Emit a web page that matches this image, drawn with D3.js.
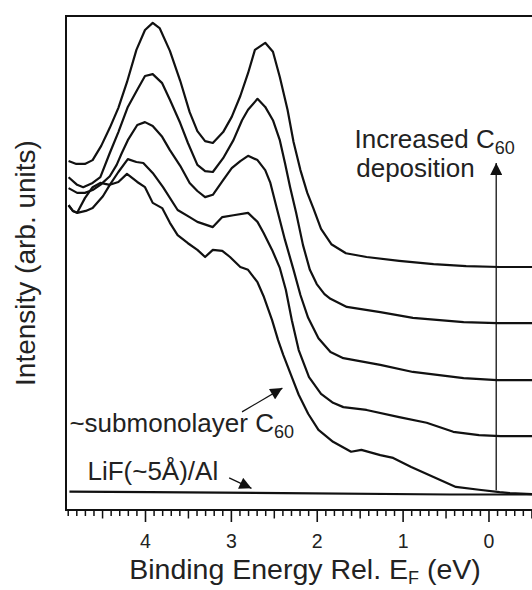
<!DOCTYPE html>
<html>
<head>
<meta charset="utf-8">
<script src="https://cdn.jsdelivr.net/npm/d3@7"></script>
<style>
  body { margin: 0; background: #fff; }
  svg { display: block; font-family: 'Liberation Sans', Arial, sans-serif; }
</style>
</head>
<body>
<div id="chart"></div>
<script>
// UPS spectra: binding energy (eV) and intensity (arb. units).
// Curve 1 is the thickest C60 film, curve 5 the submonolayer coverage.
const energy1 = [4.89, 4.80, 4.70, 4.61, 4.51, 4.41, 4.31, 4.21, 4.10, 4.00, 3.91, 3.83, 3.71, 3.59, 3.48, 3.39, 3.30, 3.21, 3.09, 2.99,
  2.89, 2.80, 2.72, 2.60, 2.51, 2.43, 2.34, 2.27, 2.19, 2.11, 2.04, 1.95, 1.83, 1.66, 1.42, 1.04, 0.64, 0.26, -0.13, -0.51];
const intensity1 = [70.3, 69.7, 69.7, 70.5, 73.5, 77.3, 81.5, 86.9, 93.7, 97.9, 99.4, 98.3, 93.5, 87.2, 80.6, 76.6, 74.5, 74.1, 76.4, 79.6,
  84.0, 88.8, 93.7, 95.2, 93.3, 88.0, 81.1, 74.3, 68.4, 63.6, 60.4, 56.0, 52.8, 50.9, 50.1, 49.3, 48.6, 48.2, 48.0, 48.0];

const energy2 = [4.89, 4.79, 4.72, 4.61, 4.52, 4.41, 4.31, 4.20, 4.09, 4.00, 3.91, 3.80, 3.71, 3.59, 3.50, 3.39, 3.30, 3.21, 3.09, 2.97,
  2.87, 2.80, 2.69, 2.60, 2.51, 2.43, 2.37, 2.31, 2.24, 2.16, 2.08, 2.00, 1.91, 1.84, 1.65, 1.26, 0.88, 0.29, -0.10, -0.51];
const intensity2 = [66.9, 65.3, 64.8, 65.7, 66.9, 72.0, 76.4, 81.7, 85.3, 88.2, 88.6, 86.7, 83.2, 78.3, 74.1, 69.5, 68.2, 68.0, 70.9, 74.7,
  78.9, 81.1, 83.4, 81.7, 78.9, 74.7, 69.9, 64.8, 59.4, 52.6, 47.4, 44.4, 42.3, 41.3, 39.6, 38.5, 37.3, 36.4, 36.2, 36.2];

const energy3 = [4.89, 4.79, 4.70, 4.61, 4.52, 4.41, 4.33, 4.27, 4.20, 4.09, 4.00, 3.91, 3.80, 3.71, 3.59, 3.48, 3.39, 3.30, 3.21, 3.09,
  2.99, 2.89, 2.80, 2.69, 2.60, 2.54, 2.46, 2.37, 2.27, 2.19, 2.10, 1.98, 1.84, 1.69, 1.26, 0.88, 0.29, -0.10, -0.51];
const intensity3 = [64.6, 63.6, 63.6, 64.2, 65.3, 67.1, 69.5, 72.0, 74.7, 77.9, 78.5, 77.7, 75.4, 72.6, 69.3, 65.7, 64.0, 62.7, 63.2, 66.3,
  68.8, 70.3, 71.4, 70.5, 68.4, 65.7, 60.0, 53.7, 47.4, 42.1, 37.3, 33.0, 30.1, 28.8, 27.4, 25.9, 24.6, 24.2, 24.2];

const energy4 = [4.89, 4.84, 4.79, 4.69, 4.61, 4.49, 4.41, 4.31, 4.20, 4.10, 4.02, 3.91, 3.79, 3.62, 3.48, 3.39, 3.21, 3.10, 2.97, 2.80,
  2.69, 2.62, 2.52, 2.43, 2.36, 2.29, 2.21, 2.09, 1.95, 1.81, 1.69, 1.42, 1.04, 0.72, 0.41, 0.11, -0.14, -0.51];
const intensity4 = [61.0, 59.8, 59.4, 59.8, 60.4, 62.9, 65.3, 68.0, 70.7, 70.1, 69.9, 67.8, 64.8, 60.0, 58.5, 57.5, 56.4, 58.5, 58.9, 59.4,
  57.5, 55.2, 51.6, 47.8, 43.2, 36.8, 30.5, 24.8, 21.3, 19.4, 18.5, 17.9, 16.4, 15.2, 13.3, 12.6, 12.4, 12.4];

const energy5 = [4.89, 4.84, 4.79, 4.70, 4.61, 4.52, 4.41, 4.31, 4.21, 4.09, 4.00, 3.91, 3.80, 3.71, 3.62, 3.50, 3.39, 3.30, 3.21, 3.10,
  3.01, 2.89, 2.80, 2.69, 2.62, 2.52, 2.45, 2.39, 2.30, 2.21, 2.10, 1.98, 1.81, 1.60, 1.48, 1.26, 1.11, 0.90, 0.64, 0.38,
  0.11, -0.13, -0.25, -0.51];
const intensity5 = [61.0, 59.8, 59.4, 62.5, 64.8, 65.7, 65.3, 65.9, 67.6, 65.9, 64.8, 61.5, 60.4, 57.3, 54.7, 53.0, 51.6, 50.1, 51.6, 51.4,
  50.1, 48.0, 47.4, 44.8, 41.9, 36.8, 32.6, 29.5, 25.3, 21.1, 17.1, 13.7, 11.2, 9.1, 9.5, 8.4, 7.8, 5.9, 3.8, 1.7,
  1.1, 0.6, 0.4, 0.2];

// Bare LiF(~5 Å)/Al substrate
const energyLiF = [4.88, 3.94, 2.39, 0.45, -0.51];
const intensityLiF = [0.7, 0.6, 0.4, 0.1, 0.1];

const majorTicks = [4, 3, 2, 1, 0];

const spectra = [
  [energy1, intensity1],
  [energy2, intensity2],
  [energy3, intensity3],
  [energy4, intensity4],
  [energy5, intensity5],
  [energyLiF, intensityLiF],
];

const width = 532;
const height = 590;
const frame = { left: 66, top: 16, right: 540, bottom: 510 };
const textColour = '#222';
const font = { axis: 28.5, ticks: 19.5, note: 26, sub: 18 };

const x = d3.scaleLinear().domain([4.92, -0.6]).range([frame.left, frame.right]);
const y = d3.scaleLinear().domain([-3.16, 100.84]).range([frame.bottom, frame.top]);

const svg = d3.select('#chart')
  .append('svg')
  .attr('width', width)
  .attr('height', height);

svg.append('defs')
  .append('clipPath')
  .attr('id', 'plot-clip')
  .append('rect')
  .attr('x', frame.left)
  .attr('y', frame.top)
  .attr('width', frame.right - frame.left)
  .attr('height', frame.bottom - frame.top);

svg.select('defs')
  .append('marker')
  .attr('id', 'head')
  .attr('viewBox', '0 -5 10 10')
  .attr('markerUnits', 'userSpaceOnUse')
  .attr('markerWidth', 13)
  .attr('markerHeight', 12)
  .attr('refX', 10)
  .attr('refY', 0)
  .attr('orient', 'auto')
  .append('path')
  .attr('d', 'M0,-5L10,0L0,5Z')
  .attr('fill', '#111');

// Tick marks hang below the frame: tenths, halves and whole eV.
const tenths = d3.range(-5, 50).map(t => t / 10);
const halves = tenths.filter(t => Math.abs(t * 2 - Math.round(t * 2)) < 1e-9 && !Number.isInteger(t));
const minors = tenths.filter(t => !halves.includes(t) && !Number.isInteger(t));

function tickLayer(values, size) {
  const g = svg.append('g')
    .attr('transform', `translate(0,${frame.bottom})`)
    .call(d3.axisBottom(x).tickValues(values).tickSize(size).tickFormat(''));
  g.select('.domain').remove();
  g.selectAll('line').attr('stroke', '#111').attr('stroke-width', 1.5);
  return g;
}

tickLayer(minors, 6);
tickLayer(halves, 8.5);
const majorAxis = tickLayer(majorTicks, 12)
  .call(d3.axisBottom(x).tickValues(majorTicks).tickSize(12).tickPadding(12.5).tickFormat(d3.format('d')));
majorAxis.select('.domain').remove();
majorAxis.selectAll('line').attr('stroke', '#111').attr('stroke-width', 1.6);
majorAxis.selectAll('text')
  .attr('fill', textColour)
  .style('font-size', `${font.ticks}px`)
  .style('font-family', "'Liberation Sans', Arial, sans-serif");

// Spectra
const line = d3.line()
  .x(d => x(d[0]))
  .y(d => y(d[1]));

svg.append('g')
  .attr('clip-path', 'url(#plot-clip)')
  .selectAll('path')
  .data(spectra)
  .join('path')
  .attr('d', ([e, i]) => line(d3.zip(e, i)))
  .attr('fill', 'none')
  .attr('stroke', '#111')
  .attr('stroke-width', 2.2)
  .attr('stroke-linejoin', 'round');

// Frame (right edge falls outside the window, as in the original)
svg.append('rect')
  .attr('x', frame.left)
  .attr('y', frame.top)
  .attr('width', frame.right - frame.left)
  .attr('height', frame.bottom - frame.top)
  .attr('fill', 'none')
  .attr('stroke', '#111')
  .attr('stroke-width', 2);

// Axis titles
svg.append('text')
  .attr('transform', `translate(35,${(frame.top + frame.bottom) / 2}) rotate(-90)`)
  .attr('text-anchor', 'middle')
  .attr('fill', textColour)
  .style('font-size', '28px')
  .text('Intensity (arb. units)');

const xTitle = svg.append('text')
  .attr('x', 305)
  .attr('y', 579)
  .attr('text-anchor', 'middle')
  .attr('fill', textColour)
  .style('font-size', `${font.axis}px`);
xTitle.append('tspan').text('Binding Energy Rel. E');
xTitle.append('tspan').attr('dy', 5).style('font-size', `${font.sub}px`).text('F');
xTitle.append('tspan').attr('dy', -5).text(' (eV)');

/**
 * Write a label with an optional subscript, anchored at a data position.
 */
function note(energy, intensity, main, sub) {
  const t = svg.append('text')
    .attr('x', x(energy))
    .attr('y', y(intensity))
    .attr('fill', textColour)
    .style('font-size', `${font.note}px`);
  t.append('tspan').text(main);
  if (sub) {
    t.append('tspan').attr('dy', 6).style('font-size', `${font.sub}px`).text(sub);
  }
}

function pointer(from, to, width) {
  svg.append('line')
    .attr('x1', x(from[0]))
    .attr('y1', y(from[1]))
    .attr('x2', x(to[0]))
    .attr('y2', y(to[1]))
    .attr('stroke', '#111')
    .attr('stroke-width', width)
    .attr('marker-end', 'url(#head)');
}

note(1.56, 73.1, 'Increased C', '60');
note(1.54, 66.9, 'deposition');
pointer([-0.09, 1.0], [-0.09, 69.9], 1.3);

note(4.88, 13.3, '~submonolayer C', '60');
pointer([2.87, 17.5], [2.40, 22.5], 1.2);

note(4.67, 3.2, 'LiF(~5Å)/Al');
pointer([3.02, 3.6], [2.76, 1.4], 1.2);
</script>
</body>
</html>
